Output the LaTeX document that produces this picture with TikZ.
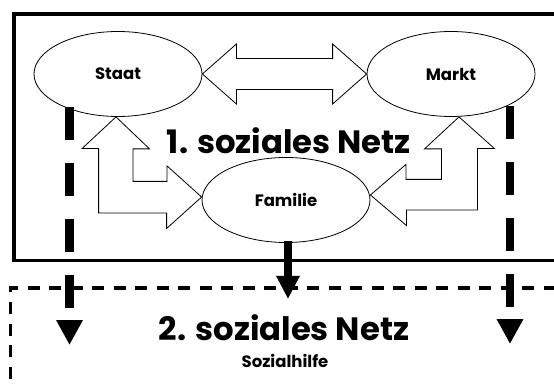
\documentclass[tikz,border=0pt]{standalone}
\usepackage{fontspec}
\setmainfont{Poppins}
\usetikzlibrary{shapes.geometric,arrows.meta,calc}

\tikzset{
  sector/.style={ellipse,draw,fill=white,line width=0.8pt,minimum width=168pt,minimum height=85pt,inner sep=0pt,
    font=\bfseries\fontsize{16.5}{16.5}\selectfont},
  blockarrow/.style={draw,fill=white,line width=0.8pt,line join=miter},
  fallback/.style={line width=8.5pt,dash pattern=on 33pt off 23pt,-{Triangle[width=25pt,length=25pt]}},
  netzlabel/.style={font=\bfseries\fontsize{32.3}{32.3}\selectfont,inner sep=0pt},
  hilfelabel/.style={font=\bfseries\fontsize{16.5}{16.5}\selectfont,inner sep=0pt}
}

\begin{document}
\begin{tikzpicture}[x=1pt,y=-1pt]
	\useasboundingbox (0,0) rectangle (554,387);
	\clip (0,0) rectangle (554,387);

	% the two nets
	\draw[line width=3.3pt] (14,14) rectangle (570,260.5);
	\draw[line width=3.5pt,dash pattern=on 12pt off 9.5pt] (10.5,400) -- (10.5,288) -- (570,288);

	% the three sectors
	\node[sector] (staat) at (118,74) {Staat};
	\node[sector] (markt) at (451,74) {Markt};
	\node[sector] (familie) at (286,200) {Familie};

	% falling through to the second net
	\coordinate (staatdown) at (69.5,345);
	\coordinate (marktdown) at (510,344);
	\coordinate (familiedown) at (288,299);
	\draw[fallback] ($(staat.center)+(-48.5,33)$) -- (staatdown);
	\draw[fallback] ($(markt.center)+(59,32)$) -- (marktdown);
	\draw[line width=8pt,-{Triangle[width=22pt,length=23pt]}] ($(familie.south)+(2,-2)$) -- (familiedown);

	% block arrows between the sectors
	\draw[blockarrow] (staat.east) -- ++(34,-30) -- ++(0,14.5) -- ($(markt.west)+(-34,-15.5)$)
		-- ++(0,-14.5) -- (markt.west) -- ++(-34,30) -- ++(0,-14.5)
		-- ($(staat.east)+(34,15.5)$) -- ++(0,14.5) -- cycle;
	\coordinate (su) at ($(staat.south)+(-2,0)$);
	\coordinate (fw) at ($(familie.west)+(0,-3)$);
	\draw[blockarrow] (su) -- ++(33.5,32) -- ++(-16.5,0) -- ++(0,32.5) -- ++(34,0) -- ++(0,-15.5)
		-- (fw) -- ++(-35,31.5) -- ++(0,-15.5) -- ++(-68,0) -- ++(0,-64.5) -- ++(-16.5,0) -- cycle;
	\coordinate (mu) at ($(markt.south)+(8,0)$);
	\coordinate (fe) at ($(familie.east)+(0,-5)$);
	\draw[blockarrow] (mu) -- ++(-34.5,32) -- ++(17,0) -- ++(0,30.5) -- ++(-35.5,0) -- ++(0,-15)
		-- (fe) -- ++(36,30.5) -- ++(0,-15.5) -- ++(71,0) -- ++(0,-61.5) -- ++(17,0) -- cycle;

	% labels
	\node[netzlabel] (netz1) at (289,141) {1. soziales Netz};
	\node[netzlabel] (netz2) at (284,328) {2. soziales Netz};
	\node[hilfelabel] (hilfe) at (285,361) {Sozialhilfe};
\end{tikzpicture}
\end{document}
